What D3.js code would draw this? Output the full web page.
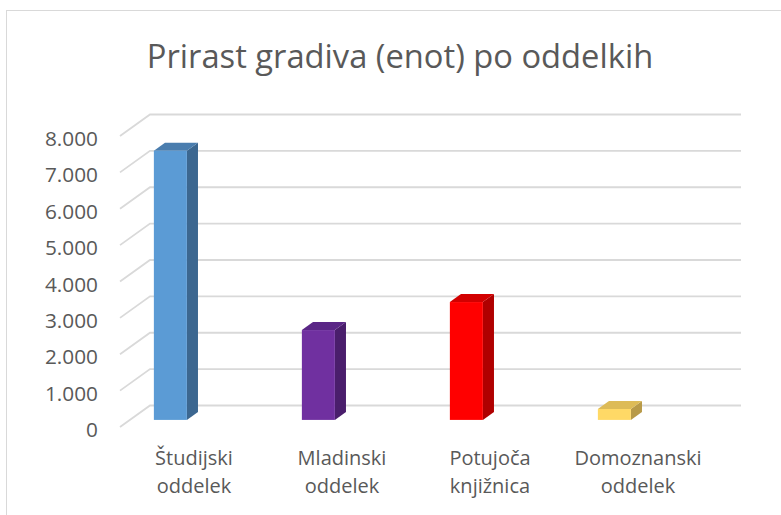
<!DOCTYPE html>
<html>
<head>
<meta charset="utf-8">
<script src="https://cdn.jsdelivr.net/npm/d3@7"></script>
<style>
  body { margin: 0; background: #fff; }
  text { font-family: "Open Sans", "Noto Sans", sans-serif; fill: #595959; }
</style>
</head>
<body>
<div id="chart"></div>
<script>
// data
const categories = ["Študijski oddelek", "Mladinski oddelek", "Potujoča knjižnica", "Domoznanski oddelek"];
const labelLines = [["Študijski", "oddelek"], ["Mladinski", "oddelek"], ["Potujoča", "knjižnica"], ["Domoznanski", "oddelek"]];
const values = [7400, 2470, 3240, 300];
const yTicks = [0, 1000, 2000, 3000, 4000, 5000, 6000, 7000, 8000];
const chartTitle = "Prirast gradiva (enot) po oddelkih";

const front = ["#5B9BD5", "#7030A0", "#FF0000", "#FFD966"];
const side  = ["#3C6790", "#4A1E6C", "#B00000", "#B89A48"];
const top_  = ["#4A7DAE", "#5A2686", "#D20000", "#DDBB57"];

function renderChart() {
  d3.select("#chart").selectAll("*").remove();

  const W = 781, H = 515;
  const svg = d3.select("#chart")
      .append("svg")
      .attr("width", W)
      .attr("height", H);

  // chart area border
  svg.append("rect")
      .attr("x", 6.5).attr("y", 10.5)
      .attr("width", 900).attr("height", 700)
      .attr("fill", "none")
      .attr("stroke", "#D9D9D9")
      .attr("stroke-width", 1);

  svg.append("text")
      .attr("x", 400).attr("y", 68)
      .attr("text-anchor", "middle")
      .style("font-size", "32.7px")
      .text(chartTitle);

  // front plane scales
  const x = d3.scaleBand()
      .domain(categories)
      .range([120, 712])
      .padding(0);

  const y = d3.scaleLinear()
      .domain([0, 8000])
      .range([427, 136]);

  // oblique depth offset
  const depthX = 30, depthY = -21.5;
  const off = t => [depthX * t, depthY * t];

  const loc = d3.formatLocale({ decimal: ",", thousands: ".", grouping: [3], currency: ["", "€"] });
  const fmt = loc.format(",");

  // gridlines: diagonal on the side wall + back wall lines
  const grid = svg.append("g")
      .attr("stroke", "#D9D9D9")
      .attr("stroke-width", 1.8)
      .attr("fill", "none");

  grid.selectAll("path")
      .data(yTicks)
      .enter().append("path")
      .attr("d", d => {
        const [bx, by] = off(1);
        return `M120,${y(d)}L${120 + bx},${y(d) + by}L741,${y(d) + by}`;
      });

  // y tick labels
  svg.append("g")
      .selectAll("text")
      .data(yTicks)
      .enter().append("text")
      .attr("x", 98)
      .attr("y", d => y(d) + 2)
      .attr("text-anchor", "end")
      .attr("dominant-baseline", "central")
      .style("font-size", "20.8px")
      .text(d => fmt(d));

  // category labels
  const lab = svg.append("g")
      .selectAll("text")
      .data(categories)
      .enter().append("text")
      .attr("text-anchor", "middle")
      .style("font-size", "20px");

  lab.selectAll("tspan")
      .data((d, i) => labelLines[i].map(s => ({ s, c: d })))
      .enter().append("tspan")
      .attr("x", d => x(d.c) + x.bandwidth() / 2)
      .attr("y", (d, j) => 465 + j * 28)
      .text(d => d.s);

  // 3D bars
  const t0 = 0.33, t1 = 0.70;
  const bw = x.bandwidth() * 0.223;
  const bars = svg.append("g")
      .selectAll("g")
      .data(values)
      .enter().append("g");

  const geom = (v, i) => {
    const [fx, fy] = off(t0);
    const [bx, by] = off(t1);
    const x0 = x(categories[i]) + x.bandwidth() * 0.162 + fx;
    const x1 = x0 + bw;
    const yb = y(0) + fy;
    const yt = y(v) + fy;
    const dx = bx - fx, dy = by - fy;
    return { x0, x1, yb, yt, dx, dy };
  };

  bars.append("path")
      .attr("fill", (d, i) => side[i])
      .attr("d", (d, i) => {
        const g = geom(d, i);
        return `M${g.x1},${g.yb}L${g.x1 + g.dx},${g.yb + g.dy}L${g.x1 + g.dx},${g.yt + g.dy}L${g.x1},${g.yt}Z`;
      });

  bars.append("path")
      .attr("fill", (d, i) => top_[i])
      .attr("d", (d, i) => {
        const g = geom(d, i);
        return `M${g.x0},${g.yt}L${g.x1},${g.yt}L${g.x1 + g.dx},${g.yt + g.dy}L${g.x0 + g.dx},${g.yt + g.dy}Z`;
      });

  bars.append("rect")
      .attr("fill", (d, i) => front[i])
      .attr("x", (d, i) => geom(d, i).x0)
      .attr("y", (d, i) => geom(d, i).yt)
      .attr("width", bw)
      .attr("height", (d, i) => geom(d, i).yb - geom(d, i).yt);
}

renderChart();
</script>
</body>
</html>
